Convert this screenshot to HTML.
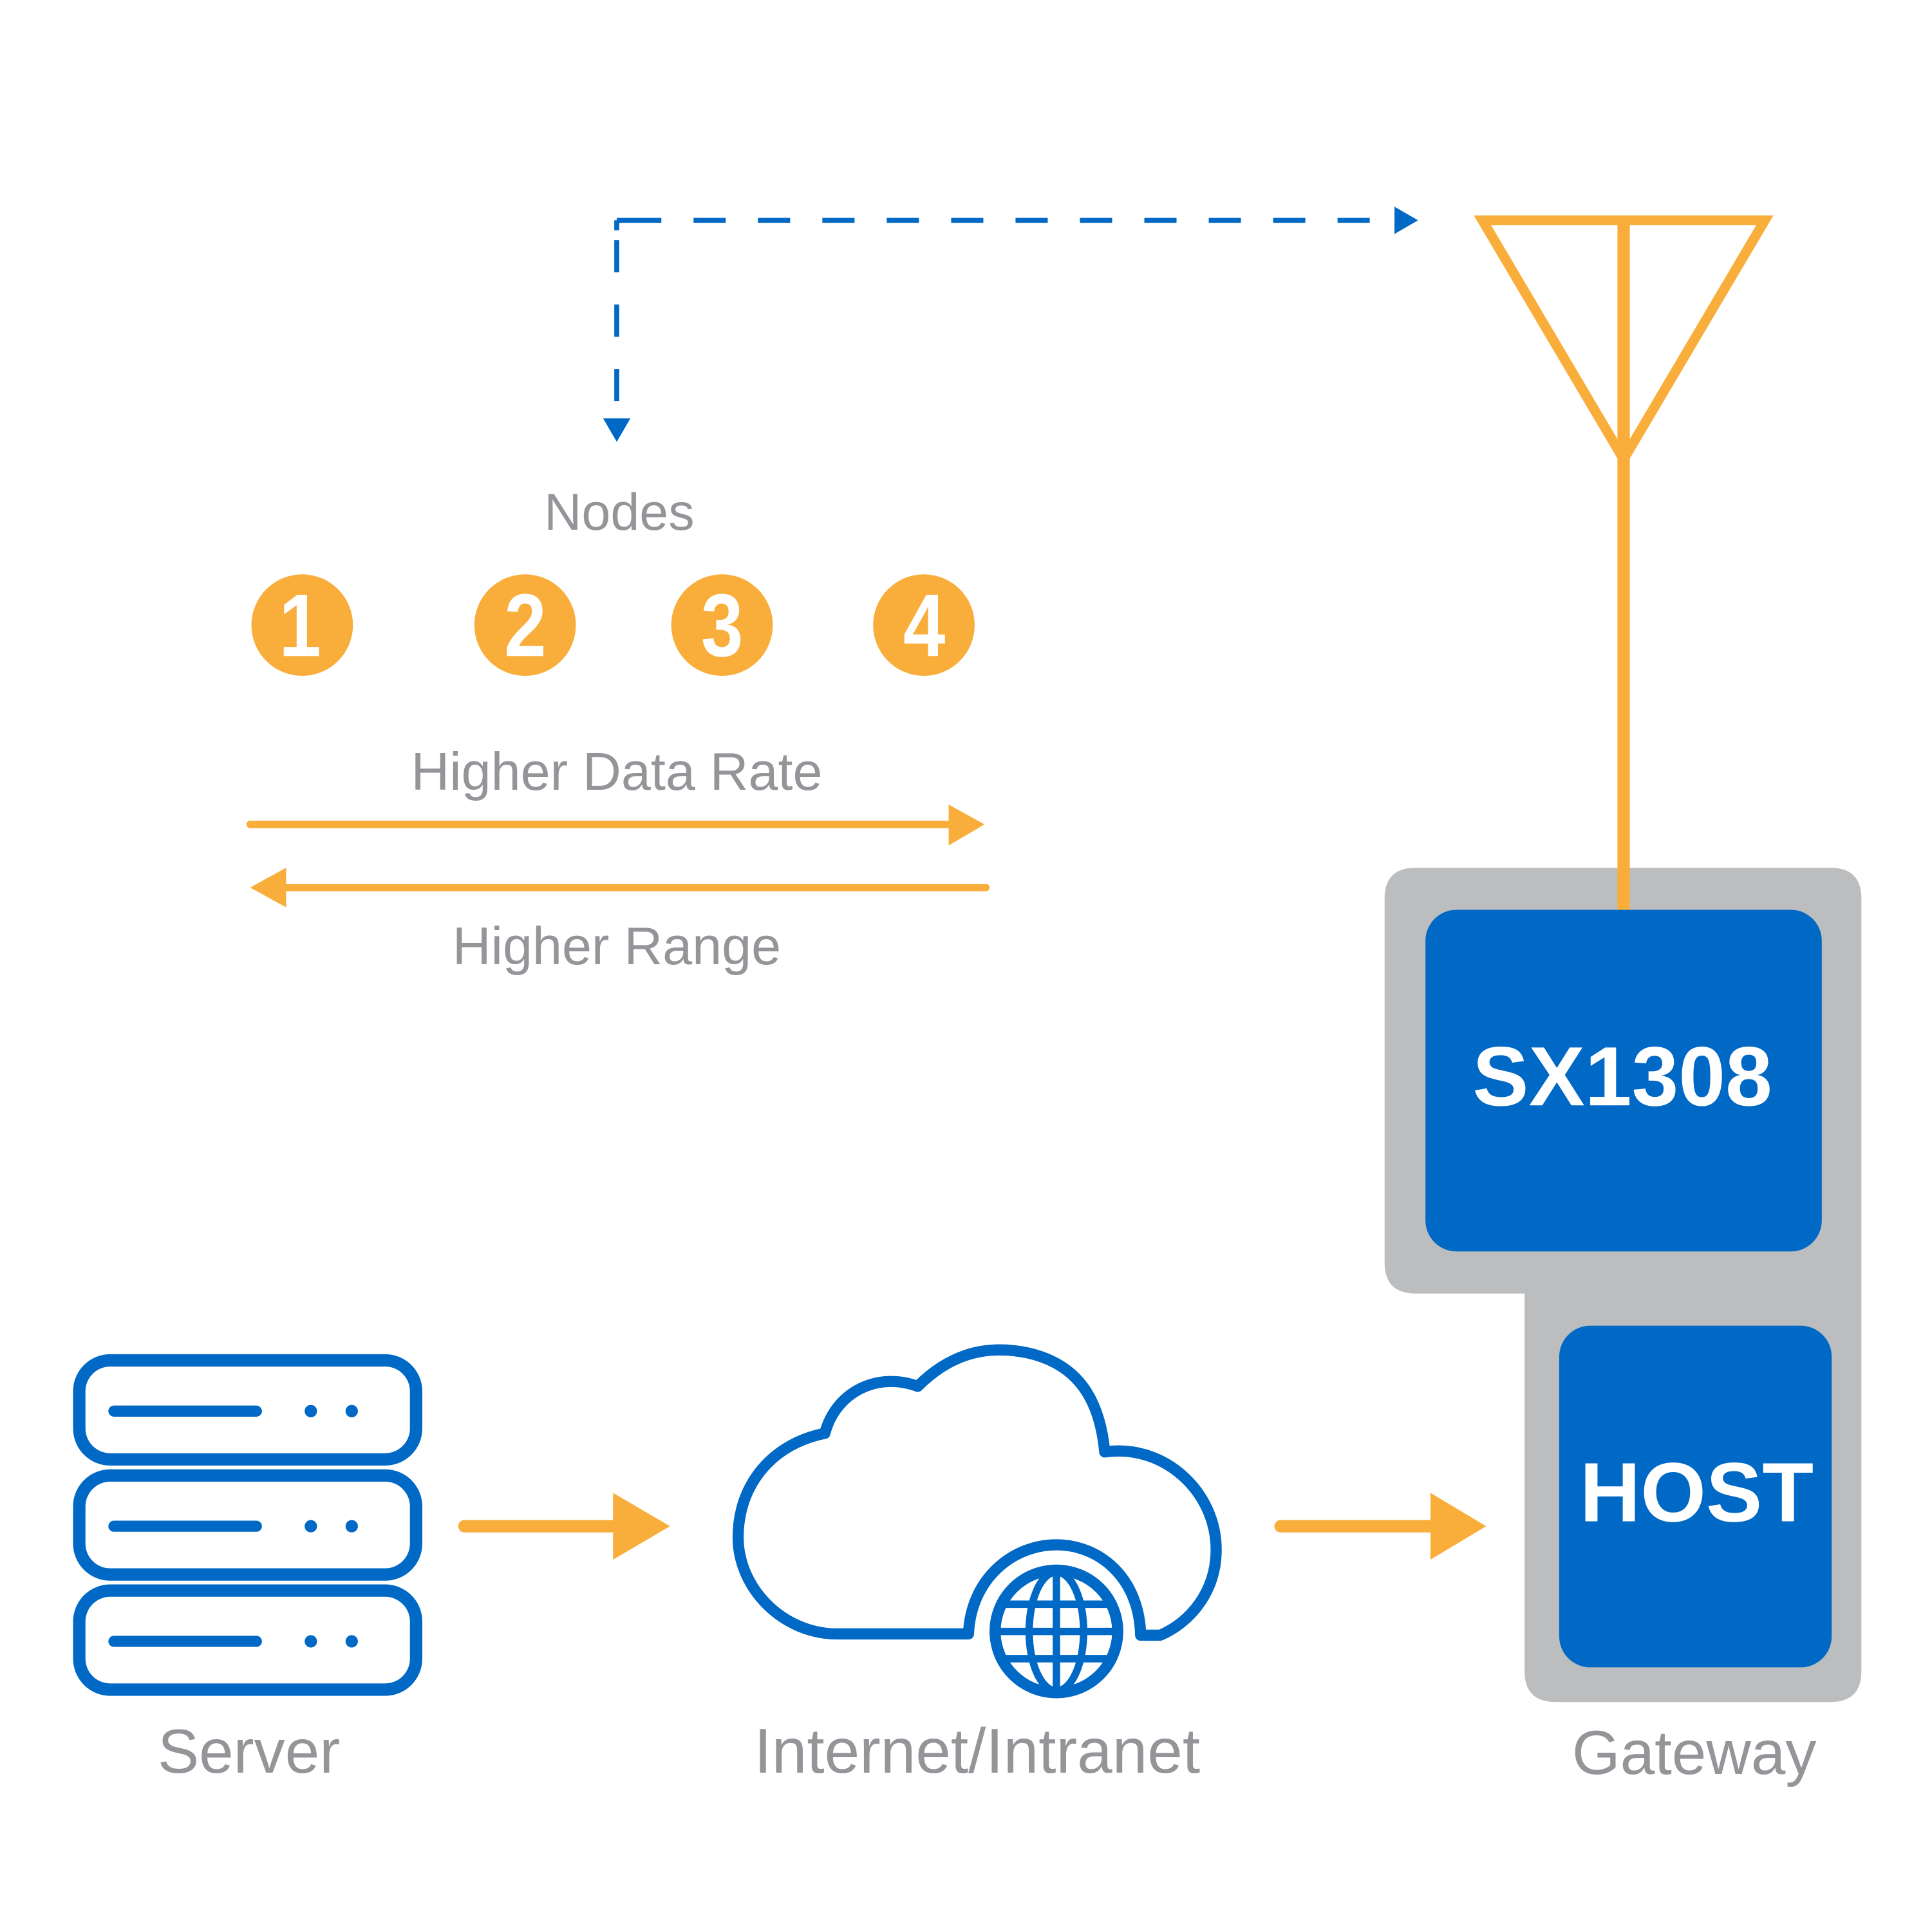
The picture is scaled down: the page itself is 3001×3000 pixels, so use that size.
<!DOCTYPE html>
<html><head><meta charset="utf-8"><style>html,body{margin:0;padding:0;background:#fff}svg{display:block}</style></head>
<body>
<svg width="3001" height="3000" viewBox="0 0 1560 1560" preserveAspectRatio="none" xmlns="http://www.w3.org/2000/svg" font-family="Liberation Sans, sans-serif">
<rect width="1560" height="1560" fill="#fff"/>
<path d="M498,338 V178 H1128" fill="none" stroke="#0068C5" stroke-width="4" stroke-dasharray="26,26" stroke-dashoffset="-14"/>
<path d="M498,178 V186 M498,178 H512" stroke="#0068C5" stroke-width="4"/>
<polygon points="487,338 509,338 498,357" fill="#0068C5"/>
<polygon points="1126,167 1126,189 1145,178" fill="#0068C5"/>
<polygon points="1197,178 1425,178 1311,371" fill="none" stroke="#F9AE3B" stroke-width="8"/>
<line x1="1311" y1="178" x2="1311" y2="736" stroke="#F9AE3B" stroke-width="10"/>
<path d="M1143,701 H1478 Q1503,701 1503,726 V1350 Q1503,1375 1478,1375 H1256 Q1231,1375 1231,1350 V1045 H1143 Q1118,1045 1118,1020 V726 Q1118,701 1143,701 Z" fill="#BCBDBF"/>
<line x1="1311" y1="701" x2="1311" y2="736" stroke="#F9AE3B" stroke-width="10"/>
<rect x="1151" y="735" width="320" height="276" rx="25" fill="#0068C5"/>
<text x="1310" y="893" font-size="68" font-weight="bold" fill="#fff" text-anchor="middle">SX1308</text>
<rect x="1259" y="1071" width="220" height="276" rx="25" fill="#0068C5"/>
<text x="1370" y="1229" font-size="68" font-weight="bold" fill="#fff" text-anchor="middle">HOST</text>
<text x="1368" y="1433" font-size="50" fill="#939598" text-anchor="middle">Gateway</text>
<text x="500" y="428" font-size="42" fill="#939598" text-anchor="middle">Nodes</text>
<g fill="#F9AE3B"><circle cx="244" cy="505" r="41"/><circle cx="424" cy="505" r="41"/><circle cx="583" cy="505" r="41"/><circle cx="746" cy="505" r="41"/></g>
<g font-size="72" font-weight="bold" fill="#fff" text-anchor="middle" transform="scale(0.85,1)"><text x="285" y="530">1</text><text x="499" y="530">2</text><text x="686" y="530">3</text><text x="878" y="530">4</text></g>
<text x="498" y="638" font-size="43" fill="#939598" text-anchor="middle">Higher Data Rate</text>
<line x1="202" y1="666" x2="770" y2="666" stroke="#F9AE3B" stroke-width="6" stroke-linecap="round"/>
<polygon points="766,650 795,666 766,683" fill="#F9AE3B"/>
<line x1="228" y1="717" x2="796" y2="717" stroke="#F9AE3B" stroke-width="6" stroke-linecap="round"/>
<polygon points="231,701 202,717 231,733" fill="#F9AE3B"/>
<text x="498" y="779" font-size="43" fill="#939598" text-anchor="middle">Higher Range</text>
<g fill="none" stroke="#0068C5" stroke-width="10">
<rect x="64" y="1099" width="272" height="80" rx="25"/>
<rect x="64" y="1192" width="272" height="80" rx="25"/>
<rect x="64" y="1285" width="272" height="80" rx="25"/>
</g>
<g stroke="#0068C5" stroke-width="9" stroke-linecap="round">
<line x1="92" y1="1140" x2="207" y2="1140"/><line x1="92" y1="1233" x2="207" y2="1233"/><line x1="92" y1="1326" x2="207" y2="1326"/>
</g>
<g fill="#0068C5">
<circle cx="251" cy="1140" r="5"/><circle cx="284" cy="1140" r="5"/>
<circle cx="251" cy="1233" r="5"/><circle cx="284" cy="1233" r="5"/>
<circle cx="251" cy="1326" r="5"/><circle cx="284" cy="1326" r="5"/>
</g>
<text x="201" y="1432" font-size="50" fill="#939598" text-anchor="middle">Server</text>
<line x1="375" y1="1233" x2="500" y2="1233" stroke="#F9AE3B" stroke-width="10" stroke-linecap="round"/>
<polygon points="495,1206 541,1233 495,1260" fill="#F9AE3B"/>
<line x1="1034" y1="1233" x2="1160" y2="1233" stroke="#F9AE3B" stroke-width="10" stroke-linecap="round"/>
<polygon points="1155,1206 1200,1233 1155,1260" fill="#F9AE3B"/>
<path d="M782,1320 H676 C632,1320 596,1283 596,1242 C596,1198 625,1166 666,1158 C675,1124 709,1108 741,1120 C764,1097 792,1085 830,1093 C870,1102 888,1130 892,1173 C940,1166 982,1205 982,1252 C982,1285 962,1310 937,1321 H921 C920,1275 888,1248 853,1248 C818,1248 784,1275 782,1320 Z" fill="none" stroke="#0068C5" stroke-width="9" stroke-linejoin="round"/>
<circle cx="853" cy="1318" r="52" fill="#0068C5"/>
<circle cx="853" cy="1318" r="45" fill="#fff"/>
<g stroke="#0068C5" stroke-width="6" fill="none">
<ellipse cx="853" cy="1318" rx="22" ry="48"/>
<line x1="853" y1="1270" x2="853" y2="1366"/>
<line x1="805" y1="1296" x2="901" y2="1296"/>
<line x1="805" y1="1318" x2="901" y2="1318"/>
<line x1="805" y1="1340" x2="901" y2="1340"/>
</g>
<circle cx="853" cy="1318" r="50" fill="none" stroke="#0068C5" stroke-width="8"/>
<text x="789" y="1432" font-size="51" fill="#939598" text-anchor="middle">Internet/Intranet</text>
</svg>
</body></html>
